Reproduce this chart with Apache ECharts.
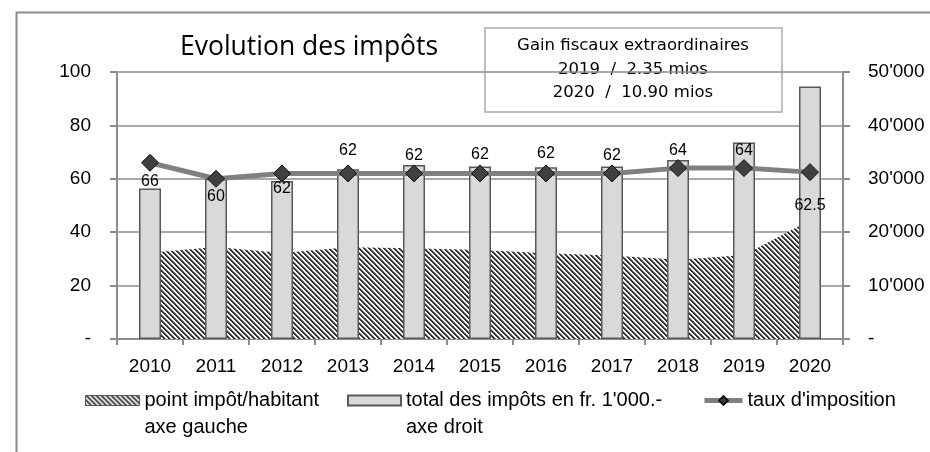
<!DOCTYPE html>
<html>
<head>
<meta charset="utf-8">
<script src="https://cdn.jsdelivr.net/npm/echarts@6/dist/echarts.min.js"></script>
<style>
  html, body { margin: 0; padding: 0; background: #fff; }
  #chart { width: 930px; height: 452px; }
</style>
</head>
<body>
<div id="chart"></div>
<script>
var years = ['2010', '2011', '2012', '2013', '2014', '2015', '2016', '2017', '2018', '2019', '2020'];
var pointImpot = [32.3, 34.5, 32.2, 34.4, 34.0, 33.3, 32.1, 31.3, 29.7, 31.5, 44.5];
var totalImpots = [28200, 30000, 29600, 31800, 32600, 32300, 32150, 32300, 33500, 36800, 47300];
var tauxImposition = [66, 60, 62, 62, 62, 62, 62, 62, 64, 64, 62.5];
var noteLines = ['Gain fiscaux extraordinaires', '2019  /  2.35 mios', '2020  /  10.90 mios'];

// label offsets (px) of the taux labels, hand placed like in the original
var labelDy = [19, 18, 15, -23, -18, -19, -20, -18, -18, -18, 33];

var nameArea = 'point impôt/habitant\naxe gauche';
var nameBar = "total des impôts en fr. 1'000.-\naxe droit";
var nameLine = "taux d'imposition";

function makeHatch() {
    var c = document.createElement('canvas');
    c.width = 5; c.height = 5;
    var ctx = c.getContext('2d');
    ctx.fillStyle = '#fff';
    ctx.fillRect(0, 0, 5, 5);
    for (var y = 0; y < 5; y++) {
        for (var x = 0; x < 5; x++) {
            var d = ((x - y) % 5 + 5) % 5;
            if (d < 2) { ctx.fillStyle = '#333'; ctx.fillRect(x, y, 1, 1); }
            else if (d === 2) { ctx.fillStyle = '#8a8a8a'; ctx.fillRect(x, y, 1, 1); }
        }
    }
    return c;
}
var hatch = { image: makeHatch(), repeat: 'repeat' };

var gridColor = '#8c8c8c';
var axisFont = 'Liberation Sans';
var legendText = { fontFamily: 'Liberation Sans', fontSize: 20, color: '#000', lineHeight: 27 };
// leading empty line so the first line of the name sits next to the icon
function firstLineAtIcon(name) { return '\n' + name; }

var chart = echarts.init(document.getElementById('chart'));

var option = {
    backgroundColor: '#fff',
    animation: false,
    title: {
        text: 'Evolution des impôts',
        left: 180, top: 34, padding: 0,
        textStyle: { fontFamily: 'Open Sans', fontSize: 26.5, fontWeight: 'normal', color: '#000' }
    },
    grid: { left: 117, right: 87, top: 72, bottom: 113 },
    legend: [
        {
            left: 85, top: 360, padding: 0, itemWidth: 54, itemHeight: 10,
            selectedMode: false, textStyle: legendText, formatter: firstLineAtIcon,
            data: [{ name: nameArea, icon: 'rect',
                     itemStyle: { color: hatch, borderColor: '#595959', borderWidth: 1 } }]
        },
        {
            left: 347, top: 360, padding: 0, itemWidth: 53, itemHeight: 10,
            selectedMode: false, textStyle: legendText, formatter: firstLineAtIcon,
            data: [{ name: nameBar, icon: 'rect' }]
        },
        {
            left: 702, top: 387, padding: 0, itemWidth: 38, itemHeight: 11,
            selectedMode: false, textStyle: legendText,
            lineStyle: { width: 5, color: '#808080' },
            data: [{ name: nameLine }]
        }
    ],
    xAxis: {
        type: 'category',
        data: years,
        axisLine: { lineStyle: { color: gridColor, width: 2 } },
        axisTick: { show: true, length: 6, lineStyle: { color: gridColor, width: 2 } },
        axisLabel: { margin: 18, fontFamily: axisFont, fontSize: 19, color: '#000' },
        splitLine: { show: false }
    },
    yAxis: [
        {
            type: 'value', min: 0, max: 100, interval: 20,
            axisLine: { show: true, lineStyle: { color: gridColor, width: 2 } },
            axisTick: { show: true, length: 7, lineStyle: { color: gridColor, width: 2 } },
            splitLine: { lineStyle: { color: gridColor, width: 1.5 } },
            axisLabel: {
                margin: 26, fontFamily: axisFont, fontSize: 19, color: '#000',
                formatter: function (v) { return v === 0 ? '-' : String(v); }
            }
        },
        {
            type: 'value', min: 0, max: 50000, interval: 10000, position: 'right',
            axisLine: { show: true, lineStyle: { color: gridColor, width: 2 } },
            axisTick: { show: true, length: 7, lineStyle: { color: gridColor, width: 2 } },
            splitLine: { show: false },
            axisLabel: {
                margin: 25, fontFamily: axisFont, fontSize: 19, color: '#000',
                formatter: function (v) { return v === 0 ? '-' : (v / 1000) + "'000"; }
            }
        }
    ],
    series: [
        {
            name: nameArea,
            type: 'line',
            yAxisIndex: 0,
            data: pointImpot,
            symbol: 'none',
            lineStyle: { width: 0 },
            itemStyle: { color: '#333' },
            areaStyle: { color: hatch, opacity: 1 },
            z: 1
        },
        {
            name: nameBar,
            type: 'bar',
            yAxisIndex: 1,
            data: totalImpots,
            barWidth: 22,
            itemStyle: { color: '#d9d9d9', borderColor: '#595959', borderWidth: 1.5 },
            z: 2
        },
        {
            name: nameLine,
            type: 'line',
            yAxisIndex: 0,
            data: tauxImposition.map(function (v, i) {
                return { value: v, label: { offset: [0, labelDy[i]] } };
            }),
            symbol: 'diamond',
            symbolSize: 17,
            itemStyle: { color: '#404040', borderColor: '#111', borderWidth: 1 },
            lineStyle: { color: '#808080', width: 5 },
            label: {
                show: true, position: 'inside',
                fontFamily: axisFont, fontSize: 16, color: '#000'
            },
            z: 3
        }
    ],
    graphic: [
        {
            type: 'rect', left: 14, top: 10, z: -10, silent: true,
            shape: { width: 1000, height: 1000 },
            style: { fill: 'none', stroke: gridColor, lineWidth: 2 }
        },
        {
            type: 'group', z: 100,
            children: [
                {
                    type: 'rect', x: 485, y: 28,
                    shape: { width: 297, height: 84 },
                    style: { fill: '#fff', stroke: '#bfbfbf', lineWidth: 2 }
                },
                {
                    type: 'text', x: 633, y: 46,
                    style: { text: noteLines[0], fontFamily: 'DejaVu Sans', fontSize: 16.5, fill: '#000',
                             align: 'center', verticalAlign: 'middle' }
                },
                {
                    type: 'text', x: 633, y: 70,
                    style: { text: noteLines[1], fontFamily: 'DejaVu Sans', fontSize: 16.5, fill: '#000',
                             align: 'center', verticalAlign: 'middle' }
                },
                {
                    type: 'text', x: 633, y: 93,
                    style: { text: noteLines[2], fontFamily: 'DejaVu Sans', fontSize: 16.5, fill: '#000',
                             align: 'center', verticalAlign: 'middle' }
                }
            ]
        }
    ]
};

chart.setOption(option);
</script>
</body>
</html>
